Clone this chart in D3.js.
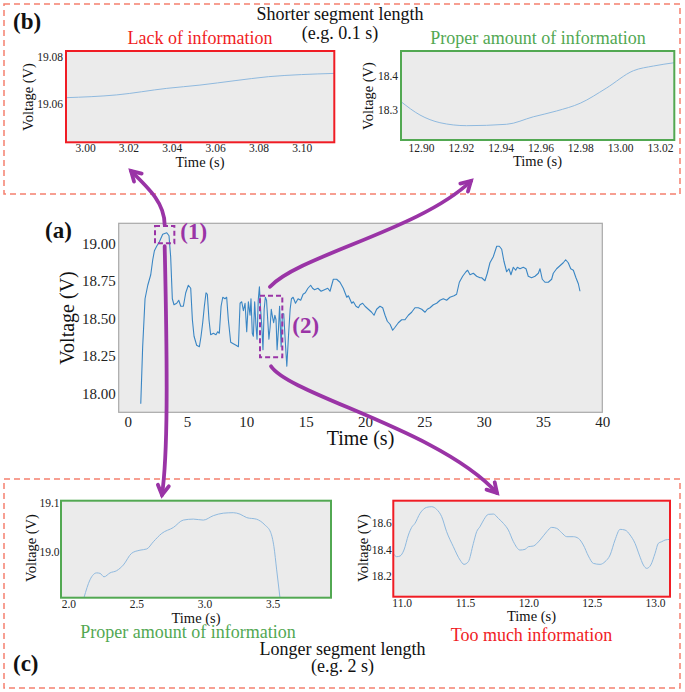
<!DOCTYPE html>
<html><head><meta charset="utf-8">
<script src="https://cdn.jsdelivr.net/npm/d3@7/dist/d3.min.js"></script>
<style>body{margin:0;background:#fff}svg{display:block}</style>
</head><body>
<svg id="c" width="685" height="692"></svg>
<script>
// ---------- DATA ----------
const mainT = [1.10,1.26,1.46,1.69,1.94,2.11,2.25,2.44,2.67,2.95,3.29,3.48,3.62,3.76,3.90,4.13,4.30,4.47,4.69,4.89,5.11,5.31,5.45,5.59,5.81,6.04,6.18,6.32,6.46,6.60,6.71,6.85,6.99,7.22,7.44,7.58,7.72,7.87,8.01,8.20,8.34,8.48,8.68,8.90,9.13,9.33,9.47,9.61,9.75,9.89,10.03,10.17,10.31,10.39,10.50,10.59,10.70,10.81,10.90,11.00,11.10,11.20,11.30,11.40,11.50,11.60,11.70,11.80,11.90,12.00,12.10,12.20,12.30,12.40,12.50,12.59,12.70,12.80,12.93,13.04,13.15,13.27,13.41,13.55,13.69,13.80,13.94,14.14,14.36,14.58,14.78,14.97,15.19,15.42,15.58,15.75,16.03,16.30,16.58,16.86,17.05,17.33,17.61,17.89,18.17,18.46,18.60,18.88,19.02,19.24,19.44,19.58,19.80,20.00,20.28,20.56,20.76,20.98,21.26,21.49,21.69,21.88,22.11,22.33,22.53,22.81,23.09,23.37,23.65,23.93,24.21,24.49,24.78,25.06,25.25,25.48,25.76,26.04,26.32,26.60,26.88,27.16,27.50,27.72,27.95,28.23,28.51,28.65,28.85,29.13,29.41,29.69,29.83,30.11,30.31,30.53,30.81,31.10,31.32,31.52,31.71,31.94,32.13,32.30,32.50,32.70,32.84,33.06,33.34,33.57,33.76,34.04,34.33,34.61,34.75,34.94,35.17,35.45,35.73,35.87,36.15,36.43,36.71,36.91,37.13,37.34,37.56,37.78,37.98,38.12];
const mainV = [17.93,18.31,18.63,18.72,18.79,18.89,18.95,18.98,19.01,19.06,19.07,19.05,18.91,18.63,18.59,18.60,18.62,18.58,18.58,18.67,18.72,18.70,18.49,18.38,18.32,18.31,18.38,18.47,18.58,18.67,18.66,18.49,18.39,18.40,18.39,18.41,18.40,18.58,18.64,18.63,18.64,18.49,18.34,18.33,18.32,18.31,18.60,18.61,18.55,18.60,18.41,18.61,18.52,18.63,18.40,18.38,18.61,18.45,18.36,18.62,18.71,18.56,18.45,18.29,18.56,18.64,18.62,18.49,18.36,18.44,18.56,18.51,18.47,18.52,18.49,18.29,18.42,18.58,18.31,18.53,18.53,18.36,18.18,18.38,18.56,18.63,18.64,18.60,18.63,18.62,18.66,18.67,18.70,18.72,18.70,18.69,18.70,18.68,18.69,18.70,18.68,18.76,18.76,18.74,18.70,18.64,18.65,18.60,18.61,18.58,18.57,18.59,18.60,18.58,18.56,18.54,18.52,18.56,18.58,18.57,18.52,18.48,18.46,18.42,18.44,18.47,18.49,18.49,18.52,18.54,18.57,18.57,18.56,18.54,18.56,18.57,18.59,18.60,18.62,18.63,18.62,18.64,18.65,18.66,18.74,18.78,18.81,18.82,18.79,18.80,18.78,18.77,18.77,18.75,18.80,18.87,18.91,18.98,18.98,18.96,18.88,18.81,18.83,18.79,18.84,18.82,18.84,18.83,18.84,18.83,18.78,18.77,18.78,18.80,18.83,18.76,18.74,18.74,18.76,18.80,18.83,18.85,18.87,18.89,18.87,18.83,18.82,18.77,18.73,18.68];
const mainXTicks = [0,5,10,15,20,25,30,35,40];
const mainYTicks = [18.00,18.25,18.50,18.75,19.00];

// (b) left: 0.1 s segment around 3.0 s
const b1T = [2.991,3.0146,3.0377,3.053,3.0692,3.0846,3.0998,3.115];
const b1V = [19.0627,19.0639,19.0667,19.0681,19.0700,19.0717,19.0726,19.0731];
const b1XTicks = [3.00,3.02,3.04,3.06,3.08,3.10];
const b1YTicks = [19.06,19.08];

// (b) right: 0.1 s segment around 12.95 s
const b2T = [12.890,12.8995,12.9095,12.9229,12.943,12.9564,12.968,12.980,12.993,13.0067,13.0168,13.0272];
const b2V = [18.3244,18.2853,18.2627,18.2539,18.258,18.280,18.297,18.320,18.364,18.4156,18.4294,18.439];
const b2XTicks = [12.90,12.92,12.94,12.96,12.98,13.00,13.02];
const b2YTicks = [18.3,18.4];

// (c) left: 2 s segment around 3 s
const c1T = [2.115,2.159,2.208,2.233,2.262,2.306,2.355,2.404,2.465,2.526,2.576,2.624,2.686,2.771,2.844,2.918,2.991,3.065,3.138,3.211,3.261,3.310,3.383,3.444,3.486,3.510,3.530,3.554];
const c1V = [18.907,18.943,18.957,18.956,18.949,18.957,18.9615,18.973,18.9968,19.003,19.0055,19.020,19.037,19.049,19.064,19.066,19.064,19.073,19.078,19.079,19.076,19.069,19.0657,19.054,19.039,19.010,18.963,18.907];
const c1XTicks = [2.0,2.5,3.0,3.5];
const c1YTicks = [19.0,19.1];

// (c) right: 2 s segment around 12 s
const c2T = [10.934,10.96,10.987,11.018,11.053,11.079,11.105,11.145,11.197,11.237,11.276,11.316,11.355,11.408,11.461,11.492,11.526,11.566,11.592,11.618,11.65,11.684,11.724,11.763,11.803,11.842,11.882,11.934,11.974,12.0,12.039,12.092,12.145,12.184,12.224,12.263,12.303,12.355,12.395,12.434,12.474,12.513,12.566,12.605,12.645,12.684,12.724,12.763,12.803,12.842,12.876,12.908,12.934,12.966,13.0,13.026,13.053,13.079,13.118];
const c2V = [18.37,18.345,18.35,18.395,18.5075,18.565,18.595,18.67,18.715,18.72,18.70,18.645,18.5325,18.42,18.32,18.2875,18.3075,18.445,18.5325,18.57,18.625,18.6625,18.665,18.6325,18.595,18.545,18.4575,18.395,18.40,18.42,18.425,18.47,18.5325,18.565,18.5575,18.525,18.495,18.495,18.4825,18.4325,18.35,18.295,18.2875,18.3075,18.3575,18.47,18.55,18.545,18.5075,18.445,18.3575,18.2825,18.2575,18.2825,18.37,18.445,18.4575,18.47,18.475];
const c2XTicks = [11.0,11.5,12.0,12.5,13.0];
const c2YTicks = [18.2,18.4,18.6];

// highlighted regions in main plot [t0, t1, v0, v1]
const region1 = [2.30, 3.93, 19.00, 19.115];
const region2 = [11.15, 13.03, 18.24, 18.65];

// ---------- DRAW ----------
const svg = d3.select('#c');
const SERIF = "'Liberation Serif','Times New Roman',Times,serif";
const PURPLE = '#9a34a6';
const RED = '#f01c24';
const GREEN = '#52a852';
const DASH = '#f5806f';

svg.append('defs');
let clipId = 0;

function panel(o) {
  const x = d3.scaleLinear().domain(o.xd).range([o.l, o.r]);
  const y = d3.scaleLinear().domain(o.yd).range([o.b, o.t]);
  const g = svg.append('g');
  g.append('rect').attr('x', o.l).attr('y', o.t).attr('width', o.r - o.l).attr('height', o.b - o.t).attr('fill', '#ebebeb');
  const id = 'clip' + (clipId++);
  svg.select('defs').append('clipPath').attr('id', id).append('rect')
    .attr('x', o.l).attr('y', o.t).attr('width', o.r - o.l).attr('height', o.b - o.t);
  const pts = o.T.map((t, i) => [t, o.V[i]]);
  g.append('path').datum(pts).attr('clip-path', `url(#${id})`)
    .attr('fill', 'none').attr('stroke', o.lineColor).attr('stroke-width', o.lw)
    .attr('stroke-linejoin', 'round')
    .attr('d', d3.line().x(d => x(d[0])).y(d => y(d[1])).curve(o.curve || d3.curveLinear));
  const ax = g.append('g').attr('transform', `translate(0,${o.b})`)
    .call(d3.axisBottom(x).tickValues(o.xt).tickFormat(o.xf).tickSize(0).tickPadding(o.xpad));
  const ay = g.append('g').attr('transform', `translate(${o.l},0)`)
    .call(d3.axisLeft(y).tickValues(o.yt).tickFormat(o.yf).tickSize(0).tickPadding(o.ypad));
  [ax, ay].forEach(a => {
    a.select('.domain').remove();
    a.selectAll('text').attr('font-family', SERIF).attr('font-size', o.tfs).attr('fill', '#222');
  });
  g.append('rect').attr('x', o.l).attr('y', o.t).attr('width', o.r - o.l).attr('height', o.b - o.t)
    .attr('fill', 'none').attr('stroke', o.border).attr('stroke-width', o.bw);
  g.append('text').attr('x', o.xlx).attr('y', o.xly).attr('text-anchor', 'middle')
    .attr('font-family', SERIF).attr('font-size', o.lfs).attr('fill', '#111').text('Time (s)');
  g.append('text').attr('transform', `translate(${o.ylx},${o.yly}) rotate(-90)`)
    .attr('text-anchor', 'middle').attr('dominant-baseline', 'central')
    .attr('font-family', SERIF).attr('font-size', o.ylfs || o.lfs).attr('fill', '#111').text('Voltage (V)');
  return {x, y};
}

// dashed group boxes
svg.append('rect').attr('x', 4).attr('y', 4).attr('width', 676).attr('height', 190)
  .attr('fill', 'none').attr('stroke', DASH).attr('stroke-width', 1.5).attr('stroke-dasharray', '6,4');
svg.append('rect').attr('x', 4).attr('y', 479).attr('width', 676).attr('height', 209)
  .attr('fill', 'none').attr('stroke', DASH).attr('stroke-width', 1.5).attr('stroke-dasharray', '6,4');

const f2 = d3.format('.2f'), f1 = d3.format('.1f');

// main (a)
const M = panel({T: mainT, V: mainV, l: 118.7, r: 602.3, t: 223.3, b: 412.3,
  xd: [-0.76, 40], yd: [17.873, 19.133], xt: mainXTicks, yt: mainYTicks,
  xf: d3.format('d'), yf: f2, xpad: 4, ypad: 3, tfs: 15, lfs: 20, ylfs: 20,
  lineColor: '#3a86c4', lw: 1.1, border: '#a8a8a8', bw: 1.2,
  xlx: 360.5, xly: 445, ylx: 67, yly: 318});

// b left
panel({T: b1T, V: b1V, l: 66, r: 334.3, t: 51, b: 142.3,
  xd: [2.9912, 3.115], yd: [19.0436, 19.0827], xt: b1XTicks, yt: b1YTicks,
  xf: f2, yf: f2, xpad: 2, ypad: 3, tfs: 11.5, lfs: 14.5,
  lineColor: '#8fb9de', lw: 1, border: RED, bw: 2, curve: d3.curveMonotoneX,
  xlx: 200, xly: 166.5, ylx: 28, yly: 97});
// b right
panel({T: b2T, V: b2V, l: 401, r: 674.3, t: 51, b: 140,
  xd: [12.88996, 13.0272], yd: [18.2118, 18.4735], xt: b2XTicks, yt: b2YTicks,
  xf: f2, yf: f1, xpad: 3.5, ypad: 3, tfs: 11.5, lfs: 14.5,
  lineColor: '#8fb9de', lw: 1, border: GREEN, bw: 2, curve: d3.curveMonotoneX,
  xlx: 537.5, xly: 166, ylx: 367.5, yly: 96});
// c left
panel({T: c1T, V: c1V, l: 61, r: 331, t: 500.7, b: 597.7,
  xd: [1.946, 3.929], yd: [18.9067, 19.1033], xt: c1XTicks, yt: c1YTicks,
  xf: f1, yf: f1, xpad: 2.5, ypad: 1.5, tfs: 11.5, lfs: 14.5,
  lineColor: '#8fb9de', lw: 1, border: GREEN, bw: 2, curve: d3.curveMonotoneX,
  xlx: 196, xly: 622.5, ylx: 31, yly: 548});
// c right
panel({T: c2T, V: c2V, l: 393.3, r: 670, t: 500.7, b: 596.7,
  xd: [10.934, 13.118], yd: [18.045, 18.765], xt: c2XTicks, yt: c2YTicks,
  xf: f1, yf: f1, xpad: 2, ypad: 1.5, tfs: 11.5, lfs: 14.5,
  lineColor: '#8fb9de', lw: 1, border: RED, bw: 2, curve: d3.curveMonotoneX,
  xlx: 531.5, xly: 620.5, ylx: 362.5, yly: 548});

// region boxes in main plot
function regionBox(r) {
  const x0 = M.x(r[0]), x1 = M.x(r[1]), y0 = M.y(r[3]), y1 = M.y(r[2]);
  svg.append('rect').attr('x', x0).attr('y', y0).attr('width', x1 - x0).attr('height', y1 - y0)
    .attr('fill', 'none').attr('stroke', PURPLE).attr('stroke-width', 2).attr('stroke-dasharray', '5,3');
  return {x0, x1, y0, y1, cx: (x0 + x1) / 2};
}
const R1 = regionBox(region1);
const R2 = regionBox(region2);

// texts
function txt(s, x, y, fs, color, anchor, weight) {
  svg.append('text').attr('x', x).attr('y', y).attr('text-anchor', anchor || 'middle')
    .attr('font-family', SERIF).attr('font-size', fs).attr('fill', color)
    .attr('font-weight', weight || 'normal').text(s);
}
txt('(1)', R1.x1 + 6, 239, 23, PURPLE, 'start', 'bold');
txt('(2)', R2.x1 + 10, 333, 23, PURPLE, 'start', 'bold');
txt('(a)', 45, 238, 23, '#111', 'start', 'bold');
txt('(b)', 13, 29, 23, '#111', 'start', 'bold');
txt('(c)', 13, 671, 23, '#111', 'start', 'bold');
txt('Shorter segment length', 340, 20, 18, '#111');
txt('(e.g. 0.1 s)', 340, 38.5, 18, '#111');
txt('Lack of information', 200, 44, 18, RED);
txt('Proper amount of information', 538, 44, 18, GREEN);
txt('Proper amount of information', 188, 638, 18, GREEN);
txt('Too much information', 531.5, 641, 18, RED);
txt('Longer segment length', 342.5, 655, 18, '#111');
txt('(e.g. 2 s)', 342.5, 672, 18, '#111');

// arrows
function arrow(p0, p1, p2, p3) {
  const p = d3.path();
  p.moveTo(p0[0], p0[1]);
  p.bezierCurveTo(p1[0], p1[1], p2[0], p2[1], p3[0], p3[1]);
  svg.append('path').attr('d', p.toString()).attr('fill', 'none')
    .attr('stroke', PURPLE).attr('stroke-width', 3.8).attr('stroke-linecap', 'round');
  const ang = Math.atan2(p3[1] - p2[1], p3[0] - p2[0]);
  const L = 11, a = Math.PI / 6;
  const h = d3.path();
  h.moveTo(p3[0] - L * Math.cos(ang - a), p3[1] - L * Math.sin(ang - a));
  h.lineTo(p3[0], p3[1]);
  h.lineTo(p3[0] - L * Math.cos(ang + a), p3[1] - L * Math.sin(ang + a));
  svg.append('path').attr('d', h.toString()).attr('fill', 'none')
    .attr('stroke', PURPLE).attr('stroke-width', 3.8).attr('stroke-linecap', 'round').attr('stroke-linejoin', 'miter');
}
arrow([R1.cx, R1.y0 - 1], [R1.cx, R1.y0 - 22], [R1.cx - 14, R1.y0 - 36], [131, 171]);
arrow([R1.cx, R1.y1 + 3], [R1.cx + 3, 380], [R1.cx + 3, 455], [162, 495]);
arrow([270, R2.y0 - 9], [300, 255], [420, 230], [471, 181]);
arrow([271, R2.y1 + 9], [290, 395], [440, 430], [497, 493]);
</script>
</body></html>
